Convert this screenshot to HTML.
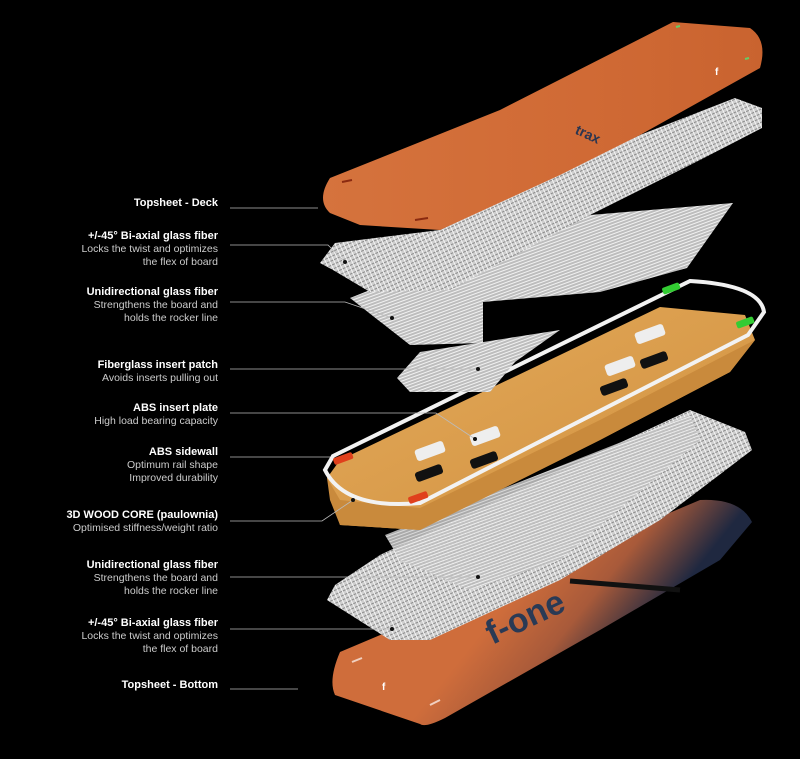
<!DOCTYPE html>
<html><head><meta charset="utf-8"><style>
html,body{margin:0;padding:0;background:#000;}
body{width:800px;height:759px;position:relative;overflow:hidden;font-family:"Liberation Sans",Arial,sans-serif;}
.l{position:absolute;right:582px;text-align:right;color:#ccc;font-size:10.5px;line-height:13px;white-space:nowrap;}
.l b{color:#fff;font-size:11px;}
svg{position:absolute;left:0;top:0;}
</style></head><body>
<svg width="800" height="759" viewBox="0 0 800 759">
<defs>
<linearGradient id="or" x1="0" y1="0" x2="1" y2="0"><stop offset="0" stop-color="#d5733d"/><stop offset="0.6" stop-color="#d06a35"/><stop offset="1" stop-color="#c9632f"/></linearGradient>
<linearGradient id="or2" gradientUnits="userSpaceOnUse" x1="540" y1="560" x2="640" y2="640"><stop offset="0" stop-color="#cf6d3b"/><stop offset="0.5" stop-color="#a85a3a"/><stop offset="1" stop-color="#1f2840"/></linearGradient>
<linearGradient id="wd" x1="0" y1="0" x2="1" y2="1"><stop offset="0" stop-color="#e4a95a"/><stop offset="1" stop-color="#d0913f"/></linearGradient>
<pattern id="uni" width="6" height="3" patternUnits="userSpaceOnUse" patternTransform="rotate(-20)"><rect width="6" height="3" fill="#bdbdbd"/><rect width="6" height="1" fill="#f2f2f2"/></pattern>
<pattern id="bi" width="4" height="4" patternUnits="userSpaceOnUse" patternTransform="rotate(-25)"><rect width="4" height="4" fill="#cfcfcf"/><rect width="4" height="1" fill="#8a8a8a"/><rect width="1" height="4" fill="#f5f5f5"/></pattern>
</defs>
<!-- bottom topsheet -->
<path d="M335,695 Q328,680 340,652 L700,500 Q740,498 752,522 L720,560 L600,630 L445,718 Q425,728 420,724 Z" fill="url(#or2)"/>
<g stroke="#f0d0c0" stroke-width="2"><line x1="352" y1="662" x2="362" y2="658"/><line x1="430" y1="705" x2="440" y2="700"/></g>
<text x="382" y="690" fill="#fff" font-size="10" font-weight="bold">f</text>
<text x="480" y="630" fill="#2a3a55" font-size="34" font-weight="bold" transform="rotate(-25 520 610)">f-one</text>
<!-- bottom glass -->
<polygon points="327,600 335,585 380,555 690,410 745,432 752,450 660,520 560,580 430,640 390,640" fill="url(#bi)"/>
<polygon points="385,535 690,415 700,440 560,560 470,590 400,560" fill="url(#uni)" opacity="0.9"/>
<line x1="570" y1="581" x2="680" y2="590" stroke="#111" stroke-width="5"/>
<!-- wood core -->
<polygon points="327,478 340,460 560,355 660,307 745,315 755,340 730,372 600,440 420,530 340,525" fill="url(#wd)"/>
<polygon points="327,478 330,500 340,525 420,530 600,440 730,372 755,340 745,345 600,420 420,508 340,500" fill="#c98a3c"/>
<g fill="#111"><rect x="415" y="468" width="28" height="10" rx="3" transform="rotate(-20 429 473)"/><rect x="470" y="455" width="28" height="10" rx="3" transform="rotate(-20 484 460)"/><rect x="600" y="382" width="28" height="10" rx="3" transform="rotate(-20 614 387)"/><rect x="640" y="355" width="28" height="10" rx="3" transform="rotate(-20 654 360)"/></g>
<g fill="#eee"><rect x="415" y="445" width="30" height="12" rx="3" transform="rotate(-20 430 451)"/><rect x="470" y="430" width="30" height="12" rx="3" transform="rotate(-20 485 436)"/><rect x="605" y="360" width="30" height="12" rx="3" transform="rotate(-20 620 366)"/><rect x="635" y="328" width="30" height="12" rx="3" transform="rotate(-20 650 334)"/></g>
<!-- sidewall -->
<path d="M333,456 L690,281 Q760,285 764,312 L748,335 L420,503 Q345,510 325,470 Z" fill="none" stroke="#f2f2f2" stroke-width="4"/>
<g fill="#e0401c"><rect x="333" y="455" width="20" height="7" rx="2" transform="rotate(-20 343 458)"/><rect x="408" y="494" width="20" height="7" rx="2" transform="rotate(-20 418 497)"/></g>
<g fill="#3c3"><rect x="662" y="285" width="18" height="7" rx="2" transform="rotate(-20 671 288)"/><rect x="736" y="319" width="18" height="7" rx="2" transform="rotate(-20 745 322)"/></g>
<!-- insert patch -->
<polygon points="397,378 420,352 560,330 515,362 490,392 410,392" fill="url(#uni)"/>
<!-- unidir top -->
<polygon points="350,298 420,270 590,215 733,203 687,268 600,292 483,302 483,343 410,345" fill="url(#uni)"/>
<!-- biaxial top -->
<polygon points="320,263 335,243 440,230 640,135 735,98 762,108 762,128 700,160 590,215 450,290 370,292 333,270" fill="url(#bi)"/>
<!-- top deck -->
<path d="M330,213 Q316,200 330,178 L500,110 L673,22 L750,28 Q768,40 760,68 L640,135 L560,175 L440,230 L360,225 Z" fill="url(#or)"/>
<g stroke="#8a2a10" stroke-width="2"><line x1="342" y1="182" x2="352" y2="180"/><line x1="415" y1="220" x2="428" y2="218"/></g>
<g stroke="#6c6" stroke-width="2"><line x1="676" y1="27" x2="680" y2="26"/><line x1="745" y1="59" x2="749" y2="58"/></g>
<text x="715" y="75" fill="#fff" font-size="10" font-weight="bold">f</text>
<text x="575" y="140" fill="#2a3550" font-size="14" font-weight="bold" transform="rotate(25 590 135)">trax</text>
<!-- leader lines -->
<g stroke="#bbb" stroke-width="0.8" fill="none">
<line x1="230" y1="208" x2="318" y2="208"/>
<polyline points="230,245 328,245 345,262"/>
<polyline points="230,302 345,302 392,318"/>
<line x1="230" y1="369" x2="478" y2="369"/>
<polyline points="230,413 436,413 475,439"/>
<line x1="230" y1="457" x2="330" y2="457"/>
<polyline points="230,521 322,521 353,500"/>
<line x1="230" y1="577" x2="478" y2="577"/>
<line x1="230" y1="629" x2="392" y2="629"/>
<line x1="230" y1="689" x2="298" y2="689"/>
</g>
<g fill="#111"><circle cx="345" cy="262" r="2"/><circle cx="392" cy="318" r="2"/><circle cx="478" cy="369" r="2"/><circle cx="475" cy="439" r="2"/><circle cx="353" cy="500" r="2"/><circle cx="478" cy="577" r="2"/><circle cx="392" cy="629" r="2"/></g>
</svg>
<div class="l" style="top:197px"><b>Topsheet - Deck</b></div>
<div class="l" style="top:230px"><b>+/-45° Bi-axial glass fiber</b><br>Locks the twist and optimizes<br>the flex of board</div>
<div class="l" style="top:286px"><b>Unidirectional glass fiber</b><br>Strengthens the board and<br>holds the rocker line</div>
<div class="l" style="top:359px"><b>Fiberglass insert patch</b><br>Avoids inserts pulling out</div>
<div class="l" style="top:402px"><b>ABS insert plate</b><br>High load bearing capacity</div>
<div class="l" style="top:446px"><b>ABS sidewall</b><br>Optimum rail shape<br>Improved durability</div>
<div class="l" style="top:509px"><b>3D WOOD CORE (paulownia)</b><br>Optimised stiffness/weight ratio</div>
<div class="l" style="top:559px"><b>Unidirectional glass fiber</b><br>Strengthens the board and<br>holds the rocker line</div>
<div class="l" style="top:617px"><b>+/-45° Bi-axial glass fiber</b><br>Locks the twist and optimizes<br>the flex of board</div>
<div class="l" style="top:679px"><b>Topsheet - Bottom</b></div>
</body></html>
